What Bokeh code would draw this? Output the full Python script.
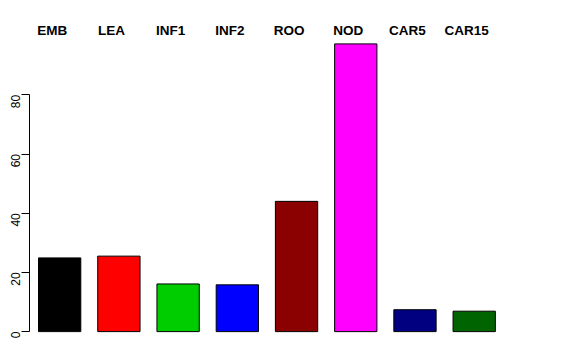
import math
from bokeh.plotting import figure
from bokeh.models import ColumnDataSource, Range1d, FixedTicker
from bokeh.core.properties import value
from bokeh.embed import file_html
from bokeh.resources import INLINE

categories = ["EMB", "LEA", "INF1", "INF2", "ROO", "NOD", "CAR5", "CAR15"]
values = [24.9, 25.5, 16.1, 15.8, 44.0, 97.2, 7.4, 6.9]
colors = ["#000000", "#FF0000", "#00CD00", "#0000FF", "#8B0000", "#FF00FF", "#000080", "#006400"]
y_ticks = [0, 20, 40, 60, 80]

# R barplot geometry: width 1, space 0.4
centers = [0.9 + 1.4 * i for i in range(len(categories))]

src = ColumnDataSource(dict(x=centers, top=values, color=colors, cat=categories,
                            ly=[101.8] * len(categories)))

p = figure(width=576, height=360, output_backend="svg", toolbar_location=None,
           x_range=Range1d(0.187, 12.74), y_range=Range1d(-9.76, 111.86),
           x_axis_location=None, min_border_left=29, min_border_right=16,
           min_border_top=0, min_border_bottom=0)
p.outline_line_color = None
p.grid.visible = False
p.background_fill_color = "white"
p.border_fill_color = "white"

p.vbar(x="x", top="top", bottom=0, width=1.0, fill_color="color",
       line_color="black", line_width=1, source=src)

p.text(x="x", y="ly", text="cat", source=src, text_align="center",
       text_baseline="middle", x_offset=-7.5,
       text_font=value("Liberation Sans"), text_font_style="bold",
       text_font_size="13.5px", text_color="black")

ax = p.yaxis[0]
ax.ticker = FixedTicker(ticks=y_ticks)
ax.bounds = (0, 80)
ax.major_tick_in = 0
ax.major_tick_out = 8
ax.minor_tick_line_color = None
ax.axis_line_color = "black"
ax.major_tick_line_color = "black"
ax.major_label_orientation = math.pi / 2
ax.major_label_standoff = 6
ax.major_label_text_font = "Liberation Sans"
ax.major_label_text_font_size = "12px"
ax.major_label_text_color = "black"

open("out.html", "w").write(file_html(p, INLINE))
